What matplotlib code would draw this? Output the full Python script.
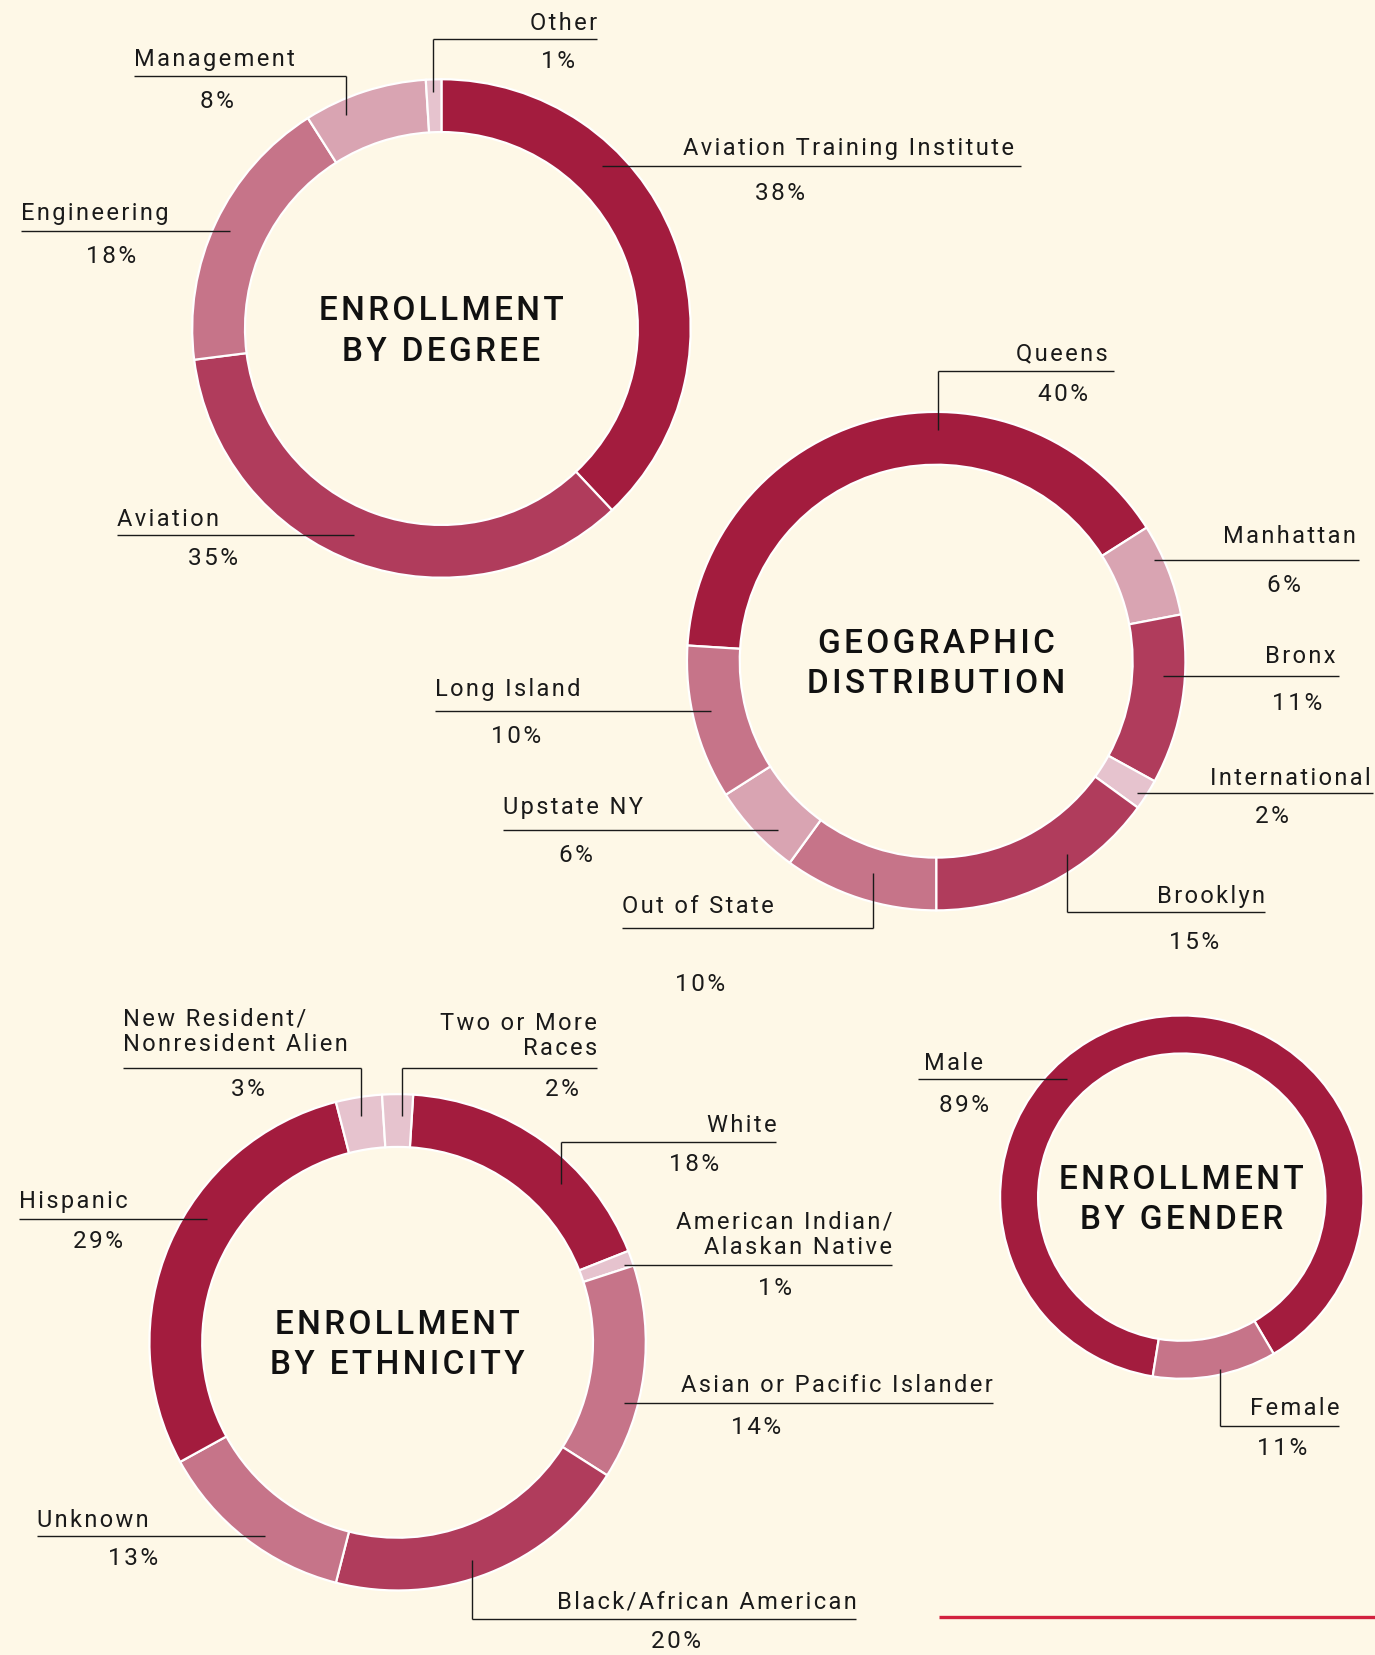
"""
Enrollment donuts: degree, geography, ethnicity, gender.
Layout measured on a 1302px-wide copy, scaled up to the 1375x1656 canvas.
"""

import matplotlib
matplotlib.use("Agg")
import matplotlib.pyplot as plt

W, H = 1375, 1656
S = W / 1302                     # layout numbers below are in 1302-wide units

BG = "#FEF8E7"
INK = "#1A1A1A"
DARK, MED, ROSE, PINK, PALE = "#A31C3E", "#B03C5C", "#C67489", "#D9A4B2", "#E6C3CE"

# ---- data ------------------------------------------------------------------
deg_labels = ["Aviation Training Institute", "Aviation", "Engineering", "Management", "Other"]
deg_values = [38, 35, 18, 8, 1]
deg_colors = [DARK, MED, ROSE, PINK, PALE]

geo_labels = ["Queens", "Manhattan", "Bronx", "International", "Brooklyn",
              "Out of State", "Upstate NY", "Long Island"]
geo_values = [40, 6, 11, 2, 15, 10, 6, 10]
geo_colors = [DARK, PINK, MED, PALE, MED, ROSE, PINK, ROSE]

eth_labels = ["White", "American Indian/\nAlaskan Native", "Asian or Pacific Islander",
              "Black/African American", "Unknown", "Hispanic",
              "New Resident/\nNonresident Alien", "Two or More\nRaces"]
eth_values = [18, 1, 14, 20, 13, 29, 3, 2]
eth_colors = [DARK, PALE, ROSE, MED, ROSE, DARK, PALE, PALE]

gen_labels = ["Male", "Female"]
gen_values = [89, 11]
gen_colors = [DARK, ROSE]

# ---- layout (1302-wide units, y measured from top) -------------------------
# donut: center x, center y, outer radius, ring width, start angle (deg, pie convention)
DONUTS = {
    "deg": (418, 312, 236, 50, 90),
    "geo": (886.5, 627, 236, 50, 176.4),
    "eth": (376.5, 1272, 235, 50, 86.4),
    "gen": (1119, 1134.5, 172, 36, -99.2),
}
TITLES = {
    "deg": "ENROLLMENT\nBY DEGREE",
    "geo": "GEOGRAPHIC\nDISTRIBUTION",
    "eth": "ENROLLMENT\nBY ETHNICITY",
    "gen": "ENROLLMENT\nBY GENDER",
}

# label: text x, ha, text center y, rule y, rule x0, rule x1, pct x, pct y, leader end y (or None at rule x)
LABELS = {
    "deg": [
        (647, "left", 141, 158, 570, 967, 739, 183, None),
        (111, "left", 492, 508, 111, 335, 202, 529, None),
        (20, "left", 202, 220, 20, 218, 105, 243, None),
        (127, "left", 56, 73, 127, 328, 205, 96, ("x1", 110)),
        (565, "right", 22, 38, 410, 565, 528, 58, ("x0", 88)),
    ],
    "geo": [
        (1049, "right", 335, 352, 888, 1055, 1007, 374, ("x0", 408)),
        (1284, "right", 508, 531, 1093, 1287, 1216, 554, None),
        (1265, "right", 622, 641, 1101, 1268, 1228, 666, None),
        (1298, "right", 737, 752, 1077, 1300, 1204, 773, None),
        (1198, "right", 849, 865, 1010, 1198, 1131, 892, ("x0", 810)),
        (589, "left", 858, 880, 589, 827, 663, 932, ("x1", 828)),
        (476, "left", 765, 787, 476, 737, 545, 810, None),
        (412, "left", 653, 674, 412, 673, 489, 697, None),
    ],
    "eth": [
        (735, "right", 1066, 1082, 531, 735, 657, 1103, ("x0", 1122)),
        (845, "right", 1169, 1199, 591, 845, 734, 1220, None),
        (940, "right", 1312, 1329, 591, 940, 716, 1352, None),
        (811, "right", 1517, 1534, 447, 811, 640, 1554, ("x0", 1478)),
        (35, "left", 1440, 1455, 35, 251, 126, 1476, None),
        (18, "left", 1138, 1155, 18, 196, 93, 1176, None),
        (116, "left", 977, 1012, 116, 342, 235, 1032, ("x1", 1058)),
        (565, "right", 981, 1012, 381, 565, 532, 1032, ("x0", 1058)),
    ],
    "gen": [
        (875, "left", 1007, 1023, 869, 1010, 913, 1047, None),
        (1268, "right", 1334, 1351, 1155, 1268, 1214, 1372, ("x0", 1297)),
    ],
}

DATA = {
    "deg": (deg_labels, deg_values, deg_colors),
    "geo": (geo_labels, geo_values, geo_colors),
    "eth": (eth_labels, eth_values, eth_colors),
    "gen": (gen_labels, gen_values, gen_colors),
}


def px(v):
    return v * S


def py(v):
    return H - v * S             # flip: layout y runs downward


def track(s, gap="\u200a"):
    # poor man's letter spacing: a hair space between every glyph
    return "\n".join(gap.join(line) for line in s.split("\n"))


plt.rcParams["font.family"] = ["Roboto", "DejaVu Sans"]

fig = plt.figure(figsize=(W / 100, H / 100), dpi=100, facecolor=BG)
ax = fig.add_axes([0, 0, 1, 1])
ax.set_xlim(0, W)
ax.set_ylim(0, H)
ax.set_aspect("equal")
ax.axis("off")
ax.set_facecolor(BG)

for key, (labels, values, colors) in DATA.items():
    cx, cy, R, ring, start = DONUTS[key]
    ax.pie(values, colors=colors, center=(px(cx), py(cy)), radius=px(R),
           startangle=start, counterclock=False, frame=True,
           wedgeprops=dict(width=px(ring), edgecolor="white", linewidth=1.6))
    ax.text(px(cx), py(cy) - 2, track(TITLES[key]), ha="center", va="center",
            fontsize=24, fontweight="medium", color="#111111", linespacing=1.33)

    for name, val, spec in zip(labels, values, LABELS[key]):
        tx, ha, ty, ry, x0, x1, pcx, pcy, lead = spec
        ax.text(px(tx), py(ty), track(name), ha=ha, va="center", fontsize=17,
                color=INK, linespacing=1.15, multialignment=ha)
        ax.plot([px(x0), px(x1)], [py(ry), py(ry)], color=INK, lw=1.0,
                solid_capstyle="butt")
        if lead is not None:
            lx = x0 if lead[0] == "x0" else x1
            ax.plot([px(lx), px(lx)], [py(ry), py(lead[1])], color=INK, lw=1.0,
                    solid_capstyle="butt")
        ax.text(px(pcx), py(pcy), track(f"{val}%"), ha="center", va="center",
                fontsize=17.5, color=INK)

# red rule bottom right
ax.plot([px(889), W], [py(1532), py(1532)], color="#D2213F", lw=2.4,
        solid_capstyle="butt")

ax.set_xlim(0, W)
ax.set_ylim(0, H)
fig.savefig("out.png", dpi=100, facecolor=BG)
